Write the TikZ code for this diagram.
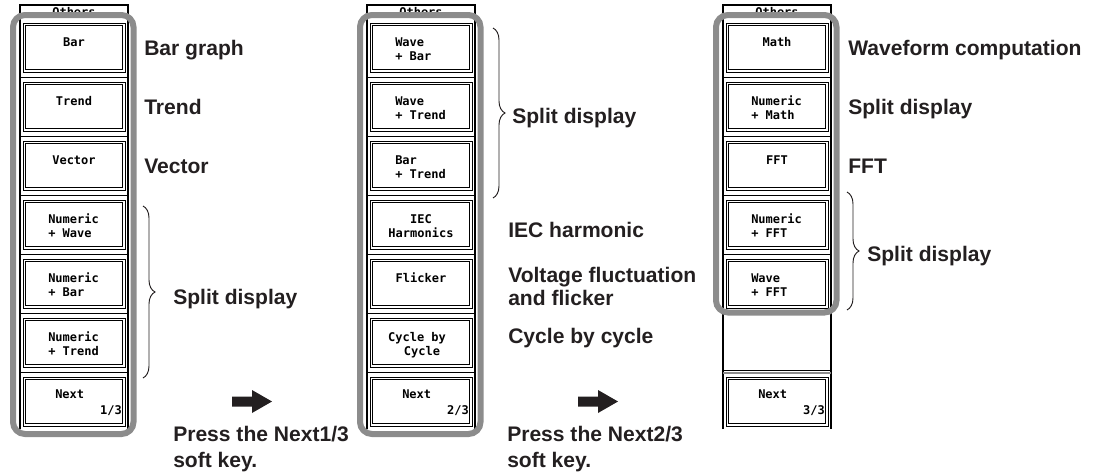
\documentclass[tikz,border=0pt]{standalone}
\usepackage{fontspec}
\setmainfont{Liberation Sans}
\newfontfamily\btnfont{DejaVu Sans Mono}
\usetikzlibrary{decorations.pathreplacing,calc}
\definecolor{framegray}{RGB}{140,140,140}
\definecolor{ink}{RGB}{35,31,32}
\tikzset{
  lbl/.style={font=\fontsize{15.8pt}{17.25pt}\selectfont\bfseries, text=ink, inner sep=0pt, anchor=base west},
  btxt/.style={font=\btnfont\bfseries\fontsize{9pt}{10.5pt}\selectfont, inner sep=0pt},
  btnbox/.style={draw=black, line width=0.6pt, minimum width=76.5pt, minimum height=36.75pt, inner sep=0pt, outer sep=0pt, fill=white},
  btninner/.style={draw=black, line width=1.4pt},
  frameline/.style={draw=black, line width=0.8pt},
  sepline/.style={draw=black, line width=0.6pt},
  roundframe/.style={draw=framegray, line width=4.5pt, rounded corners=9pt},
  bracestyle/.style={draw=ink, line width=0.7pt, decorate, decoration={brace, amplitude=9pt}},
  blockarrow/.style={fill=ink, draw=none},
}
\newcommand\mkbtn[3]{%
  \node[btnbox] (#1) at ({#2+51},{#3+24.5}) {};
  \draw[btninner] ([shift={(2.5,2.5)}]#1.north west) rectangle ([shift={(-2.5,-2.5)}]#1.south east);
}
\newcommand\tone[3]{\node[btxt,anchor=base] (#1) at ($(#2.north)+(0,23)$) {#3};}
\newcommand\ttwo[4]{%
  \node[btxt,anchor=base west] (#1a) at ($(#2.north west)+(25,23)$) {#3};
  \node[btxt,anchor=base west] (#1b) at ($(#2.north west)+(25,37)$) {#4};}
\newcommand\tnext[3]{%
  \node[btxt,anchor=base west] (#1a) at ($(#2.north west)+(32,21)$) {Next};
  \node[btxt,anchor=base east] (#1b) at ($(#2.north east)+(-3,37)$) {#3};}
\newcommand\mkarrow[1]{%
  \fill[blockarrow] (#1) ++(0,-5) -- ++(20,0) -- ++(0,-6.5) -- ++(20,11.5) -- ++(-20,11.5) -- ++(0,-6.5) -- ++(-20,0) -- cycle;}
\begin{document}
\begin{tikzpicture}[x=0.75pt,y=-0.75pt]
\useasboundingbox (0,0) rectangle (1097,475);

% ---------------- Panel 1
\node[btxt,anchor=base] (p1oth) at (74,16.7) {Others};
\draw[frameline] (20,429) -- (20,5) -- (128,5) -- (128,429);
\foreach \k in {1,...,6} \draw[sepline] (20,{23+59*\k-4.5}) -- (128,{23+59*\k-4.5});
\mkbtn{p1b0}{23}{23}
\mkbtn{p1b1}{23}{82}
\mkbtn{p1b2}{23}{141}
\mkbtn{p1b3}{23}{200}
\mkbtn{p1b4}{23}{259}
\mkbtn{p1b5}{23}{318}
\mkbtn{p1b6}{23}{377}
\tone{p1t0}{p1b0}{Bar}
\tone{p1t1}{p1b1}{Trend}
\tone{p1t2}{p1b2}{Vector}
\ttwo{p1t3}{p1b3}{Numeric}{+ Wave}
\ttwo{p1t4}{p1b4}{Numeric}{+ Bar}
\ttwo{p1t5}{p1b5}{Numeric}{+ Trend}
\tnext{p1t6}{p1b6}{1/3}
\draw[roundframe] (13,15) rectangle (133.5,434);

\node[lbl] (l1a) at (144,55) {Bar graph};
\node[lbl] (l1b) at (144,114) {Trend};
\node[lbl] (l1c) at (144,173) {Vector};
\coordinate (br1t) at (143,206);
\coordinate (br1b) at (143,378);
\draw[bracestyle] (br1t) -- (br1b);
\node[lbl] (l1d) at (173,304) {Split display};
\coordinate (ar1) at (232,401.5);
\mkarrow{ar1}
\node[lbl] (l1e) at (173,441) {Press the Next1/3};
\node[lbl] (l1f) at (173,467) {soft key.};

% ---------------- Panel 2
\begin{scope}[shift={(347,0)}]
\node[btxt,anchor=base] (p2oth) at (74,16.7) {Others};
\draw[frameline] (20,429) -- (20,5) -- (128,5) -- (128,429);
\foreach \k in {1,...,6} \draw[sepline] (20,{23+59*\k-4.5}) -- (128,{23+59*\k-4.5});
\mkbtn{p2b0}{23}{23}
\mkbtn{p2b1}{23}{82}
\mkbtn{p2b2}{23}{141}
\mkbtn{p2b3}{23}{200}
\mkbtn{p2b4}{23}{259}
\mkbtn{p2b5}{23}{318}
\mkbtn{p2b6}{23}{377}
\ttwo{p2t0}{p2b0}{Wave}{+ Bar}
\ttwo{p2t1}{p2b1}{Wave}{+ Trend}
\ttwo{p2t2}{p2b2}{Bar}{+ Trend}
\node[btxt,anchor=base] (p2t3a) at ($(p2b3.north)+(0,23)$) {IEC};
\node[btxt,anchor=base] (p2t3b) at ($(p2b3.north)+(0,37)$) {Harmonics};
\tone{p2t4}{p2b4}{Flicker}
\node[btxt,anchor=base] (p2t5a) at ($(p2b5.north)+(-4,23)$) {Cycle by};
\node[btxt,anchor=base] (p2t5b) at ($(p2b5.north)+(1,37)$) {Cycle};
\tnext{p2t6}{p2b6}{2/3}
\draw[roundframe] (13,15) rectangle (133.5,434);
\end{scope}

\coordinate (br2t) at (493,28);
\coordinate (br2b) at (493,198);
\draw[bracestyle] (br2t) -- (br2b);
\node[lbl] (l2a) at (512,123) {Split display};
\node[lbl] (l2b) at (508,237) {IEC harmonic};
\node[lbl] (l2c) at (508,282) {Voltage fluctuation};
\node[lbl] (l2d) at (508,305) {and flicker};
\node[lbl] (l2e) at (508,343) {Cycle by cycle};
\coordinate (ar2) at (578,401.5);
\mkarrow{ar2}
\node[lbl] (l2f) at (507,441) {Press the Next2/3};
\node[lbl] (l2g) at (507,467) {soft key.};

% ---------------- Panel 3
\begin{scope}[shift={(703,0)}]
\node[btxt,anchor=base] (p3oth) at (74,16.7) {Others};
\draw[frameline] (20,429) -- (20,5) -- (128,5) -- (128,429);
\foreach \k in {1,...,5} \draw[sepline] (20,{23+59*\k-4.5}) -- (128,{23+59*\k-4.5});
\draw[draw=framegray, line width=1.5pt] (20,373) -- (128,373);
\draw[draw=black, line width=0.8pt] (20,370.5) -- (128,370.5);
\mkbtn{p3b0}{23}{23}
\mkbtn{p3b1}{23}{82}
\mkbtn{p3b2}{23}{141}
\mkbtn{p3b3}{23}{200}
\mkbtn{p3b4}{23}{259}
\mkbtn{p3b6}{23}{377}
\tone{p3t0}{p3b0}{Math}
\ttwo{p3t1}{p3b1}{Numeric}{+ Math}
\tone{p3t2}{p3b2}{FFT}
\ttwo{p3t3}{p3b3}{Numeric}{+ FFT}
\ttwo{p3t4}{p3b4}{Wave}{+ FFT}
\tnext{p3t6}{p3b6}{3/3}
\draw[roundframe] (13,15) rectangle (133.5,312.5);
\end{scope}

\node[lbl] (l3a) at (848,55) {Waveform computation};
\node[lbl] (l3b) at (848,114) {Split display};
\node[lbl] (l3c) at (848,173) {FFT};
\coordinate (br3t) at (847,192);
\coordinate (br3b) at (847,310);
\draw[bracestyle] (br3t) -- (br3b);
\node[lbl] (l3d) at (867,261) {Split display};
\end{tikzpicture}
\end{document}
